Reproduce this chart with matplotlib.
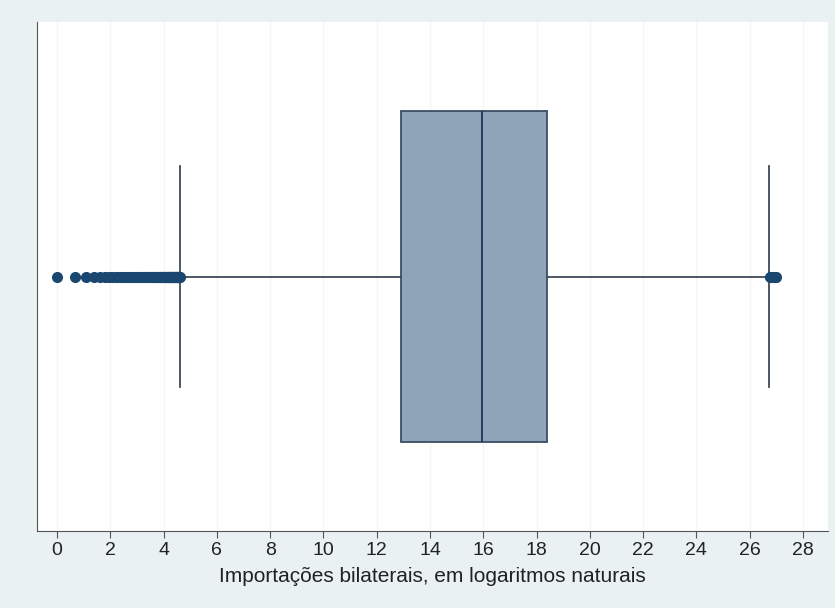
import matplotlib.pyplot as plt
import numpy as np

plt.rcParams['font.family'] = ['Liberation Sans', 'DejaVu Sans']

# box summary (log of bilateral imports)
q1 = 12.9
median = 15.95
q3 = 18.4
whisker_low = 4.62
whisker_high = 26.73

# outliers
outliers_low = [0.0, 0.69, 1.10, 1.39, 1.61, 1.79, 1.95, 2.08, 2.20, 2.30, 2.40,
                2.48, 2.56, 2.64, 2.71, 2.77, 2.83, 2.89, 2.94, 3.00, 3.04, 3.09,
                3.14, 3.18, 3.22, 3.26, 3.30, 3.33, 3.37, 3.40, 3.43, 3.47, 3.50,
                3.53, 3.56, 3.58, 3.61, 3.64, 3.66, 3.69, 3.71, 3.74, 3.76, 3.78,
                3.81, 3.83, 3.85, 3.87, 3.89, 3.91, 3.93, 3.95, 3.97, 3.99, 4.01,
                4.03, 4.04, 4.06, 4.08, 4.09, 4.11, 4.13, 4.14, 4.16, 4.17, 4.19,
                4.20, 4.22, 4.23, 4.25, 4.26, 4.28, 4.29, 4.30, 4.32, 4.33, 4.34,
                4.36, 4.37, 4.38, 4.39, 4.41, 4.42, 4.43, 4.44, 4.45, 4.47, 4.48,
                4.49, 4.50, 4.51, 4.52, 4.53, 4.54, 4.55, 4.56, 4.57, 4.58, 4.59, 4.60]
outliers_high = [26.76, 26.82, 26.88, 26.95, 27.0]

xticks = list(range(0, 29, 2))

fig = plt.figure(figsize=(8.35, 6.08), dpi=100)
fig.patch.set_facecolor('#eaf1f3')
ax = fig.add_axes([0.0443, 0.1266, 0.9473, 0.8372])
ax.set_facecolor('white')

stats = [{
    'med': median, 'q1': q1, 'q3': q3,
    'whislo': whisker_low, 'whishi': whisker_high,
    'fliers': np.array(outliers_low + outliers_high),
}]
ax.bxp(stats, positions=[0.5], widths=0.652, capwidths=0.436, vert=False,
       patch_artist=True,
       boxprops=dict(facecolor='#8fa4b8', edgecolor='#3a4e63', linewidth=1.3),
       medianprops=dict(color='#1f3556', linewidth=1.3),
       whiskerprops=dict(color='#3f4a58', linewidth=1.3),
       capprops=dict(color='#3f4a58', linewidth=1.3),
       flierprops=dict(marker='o', markerfacecolor='#1a476f',
                       markeredgecolor='#1a476f', markersize=7))

ax.set_xlim(-0.75, 28.94)
ax.set_ylim(0, 1)
ax.set_xticks(xticks)
ax.set_yticks([])
ax.grid(axis='x', color='#f5f5f5', linewidth=1)
ax.set_axisbelow(True)
for s in ['top', 'right']:
    ax.spines[s].set_visible(False)
ax.spines['left'].set_color('#555555')
ax.spines['bottom'].set_color('#555555')
ax.tick_params(axis='x', direction='out', length=5, color='#555555',
               labelsize=14, labelcolor='#222222', pad=3)
ax.set_xlabel('Importações bilaterais, em logaritmos naturais', fontsize=15,
              color='#222222', labelpad=6)

fig.savefig('out.png', dpi=100, facecolor=fig.get_facecolor())
